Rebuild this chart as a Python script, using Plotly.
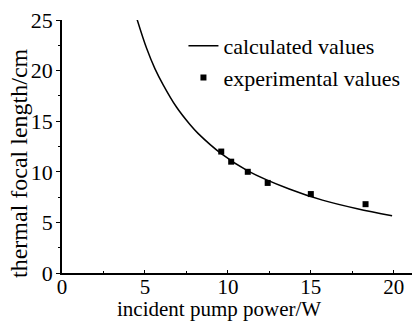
import plotly.graph_objects as go

# calculated curve
calc_power = [4.5, 5.1, 5.6, 6.1, 6.9, 7.7, 8.2, 9.6, 11.2, 13.7, 15.7, 17.8, 19.9]
calc_focal = [25.2, 22.2, 20.2, 18.6, 16.4, 14.7, 13.8, 11.8, 10.1, 8.3, 7.2, 6.35, 5.65]

# experimental points
exp_power = [9.6, 10.2, 11.2, 12.4, 15.0, 18.3]
exp_focal = [12.0, 11.0, 10.0, 8.9, 7.8, 6.8]

x_ticks = [0, 5, 10, 15, 20]
y_ticks = [0, 5, 10, 15, 20, 25]

FONT = "Liberation Serif"
TOP, BOTTOM, LEFT, RIGHT = 20, 273, 62, 412

fig = go.Figure()
fig.add_trace(go.Scatter(
    x=calc_power, y=calc_focal, mode="lines", name="calculated values",
    line=dict(color="black", width=1.5, shape="spline", smoothing=1.0),
))
fig.add_trace(go.Scatter(
    x=exp_power, y=exp_focal, mode="markers", name="experimental values",
    marker=dict(symbol="square", size=6, color="black"),
))

axis_common = dict(
    showgrid=False, zeroline=False, showline=True, linecolor="black", linewidth=1.5,
    tickwidth=1, tickcolor="black",
)

fig.update_xaxes(range=[0, 21.1], tickvals=x_ticks, ticks="inside", ticklen=3,
                 ticklabelstandoff=-6, tickfont=dict(family=FONT, size=21, color="black"),
                 minor=dict(ticks="inside", ticklen=2, tickcolor="black", dtick=2.5),
                 **axis_common)
fig.update_yaxes(range=[0, 25], tickvals=y_ticks, ticks="outside", ticklen=4,
                 ticklabelstandoff=-1, tickfont=dict(family=FONT, size=22, color="black"),
                 minor=dict(ticks="outside", ticklen=2, tickcolor="black", dtick=2.5),
                 **axis_common)

W = RIGHT - LEFT
H = BOTTOM - TOP
fig.add_annotation(text="incident pump power/W", xref="paper", yref="paper",
                   x=(219 - LEFT) / W, y=-(309 - BOTTOM) / H, showarrow=False,
                   xanchor="center", yanchor="middle",
                   font=dict(family=FONT, size=21, color="black"))
fig.add_annotation(text="thermal focal length/cm", xref="paper", yref="paper",
                   x=(19 - LEFT) / W, y=(BOTTOM - 163) / H, showarrow=False,
                   textangle=-90, xanchor="center", yanchor="middle",
                   font=dict(family=FONT, size=24, color="black"))

fig.update_layout(
    width=420, height=326,
    margin=dict(l=LEFT, r=420 - RIGHT, t=TOP, b=326 - BOTTOM),
    paper_bgcolor="white", plot_bgcolor="white",
    font=dict(family=FONT, color="black"),
    legend=dict(x=0.347, y=0.98, xanchor="left", yanchor="top",
                bgcolor="rgba(0,0,0,0)", font=dict(family=FONT, size=22, color="black"),
                itemwidth=30, tracegroupgap=0),
    showlegend=True,
)

fig.write_html("out.html")
